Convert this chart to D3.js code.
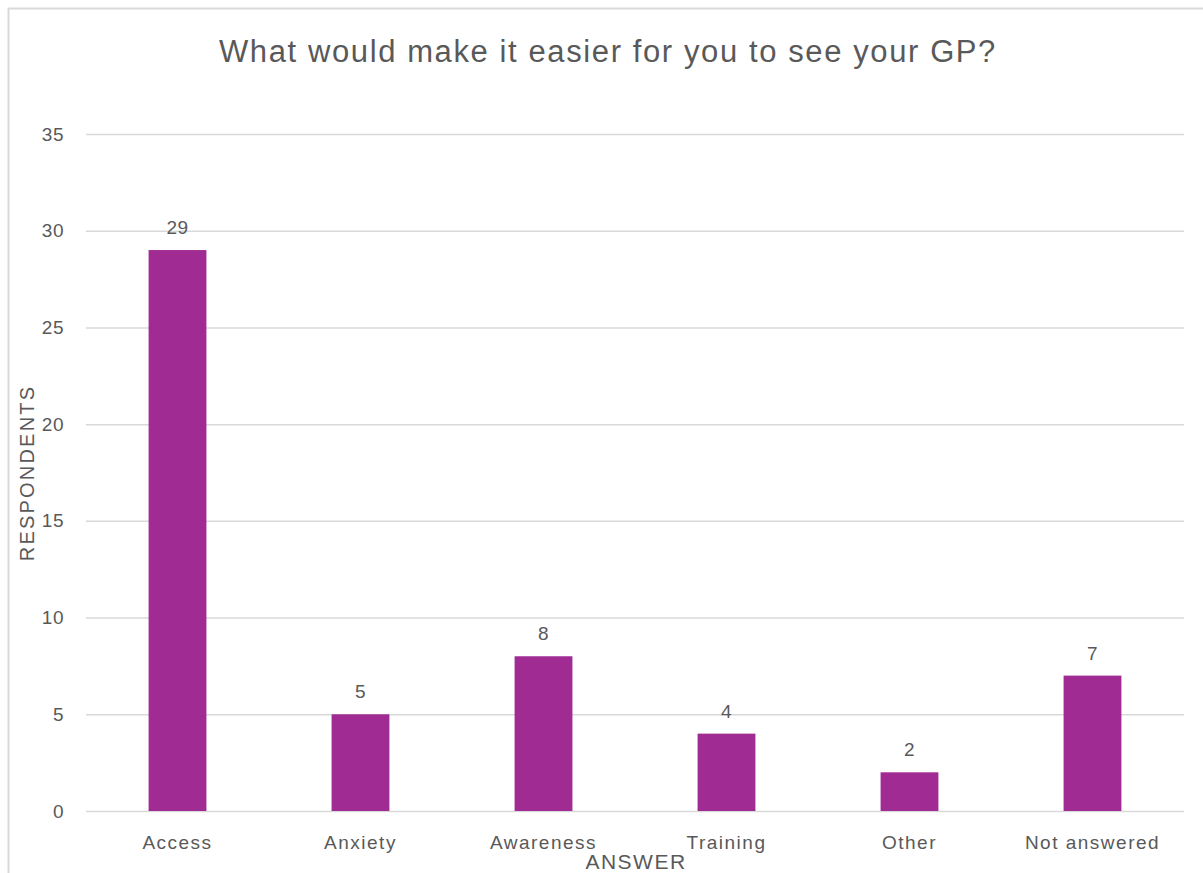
<!DOCTYPE html>
<html><head><meta charset="utf-8">
<script src="https://cdn.jsdelivr.net/npm/d3@7/dist/d3.min.js"></script>
<style>body{margin:0;background:#fff}svg{display:block}</style>
</head><body>
<svg id="c" width="1203" height="873"></svg>
<script>
const categories = ["Access","Anxiety","Awareness","Training","Other","Not answered"];
const values = [29,5,8,4,2,7];
const yTicks = [0,5,10,15,20,25,30,35];
const title = "What would make it easier for you to see your GP?";
const xTitle = "ANSWER";
const yTitle = "RESPONDENTS";

const svg = d3.select("#c");
const font = "'Liberation Sans', Arial, sans-serif";
const textColor = "#595959";
const L = 86, R = 1184, T = 134, B = 811;

svg.append("rect").attr("x",8.5).attr("y",8.5).attr("width",1230).attr("height",900)
  .attr("fill","#fff").attr("stroke","#d9d9d9").attr("stroke-width",2);

const x = d3.scaleBand().domain(categories).range([L,R]).paddingInner(0.684).paddingOuter(0.342);
const y = d3.scaleLinear().domain([0,35]).range([B,T]);

const yAxis = d3.axisLeft(y).tickValues(yTicks).tickSize(-(R-L)).tickPadding(22);
const gy = svg.append("g").attr("transform",`translate(${L},0)`).call(yAxis);
gy.select(".domain").remove();
gy.selectAll(".tick line").attr("stroke","#d9d9d9").attr("stroke-width",1.5);
gy.selectAll(".tick text").attr("fill",textColor).style("font-family",font).style("font-size","19px")
  .style("letter-spacing","0.5px");

svg.append("g").selectAll("rect").data(values).join("rect")
  .attr("x",(d,i)=>x(categories[i])).attr("width",x.bandwidth())
  .attr("y",d=>y(d)).attr("height",d=>B-y(d)).attr("fill","#A02B93");

svg.append("g").selectAll("text").data(values).join("text")
  .attr("x",(d,i)=>x(categories[i])+x.bandwidth()/2).attr("y",d=>y(d)-16)
  .attr("text-anchor","middle").attr("fill",textColor)
  .style("font-family",font).style("font-size","19px").style("letter-spacing","0.5px").text(d=>d);

const xAxis = d3.axisBottom(x).tickSize(0).tickPadding(25);
const gx = svg.append("g").attr("transform",`translate(0,${B})`).call(xAxis);
gx.select(".domain").remove();
gx.selectAll(".tick text").attr("fill",textColor).style("font-family",font).style("font-size","19px")
  .style("letter-spacing","1.5px");

svg.append("text").attr("x",608).attr("y",62).attr("text-anchor","middle")
  .attr("fill",textColor).style("font-family",font).style("font-size","31px")
  .style("letter-spacing","1.6px").text(title);
svg.append("text").attr("x",636).attr("y",869).attr("text-anchor","middle")
  .attr("fill",textColor).style("font-family",font).style("font-size","21px")
  .style("letter-spacing","1.5px").text(xTitle);
svg.append("text").attr("transform","translate(34,473) rotate(-90)").attr("text-anchor","middle")
  .attr("fill",textColor).style("font-family",font).style("font-size","20px")
  .style("letter-spacing","2.2px").text(yTitle);
</script>
</body></html>
